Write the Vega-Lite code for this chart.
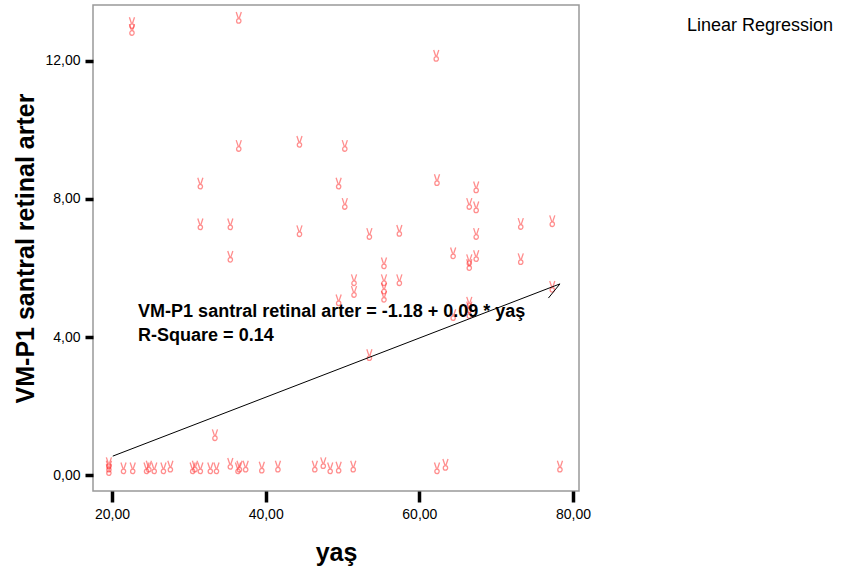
{
  "$schema": "https://vega.github.io/schema/vega-lite/v6.json",
  "autosize": "none",
  "width": 486,
  "height": 486,
  "padding": {"left": 93, "top": 5, "right": 262, "bottom": 83},
  "background": "white",
  "config": {
    "view": {"stroke": "#999999", "strokeWidth": 1.5},
    "font": "Liberation Sans",
    "axis": {
      "grid": false,
      "domain": false,
      "tickColor": "black",
      "tickWidth": 3.5,
      "labelFont": "Liberation Sans",
      "labelFontSize": 14,
      "labelColor": "black",
      "titleFont": "Liberation Sans",
      "titleFontSize": 25,
      "titleFontWeight": "bold",
      "titleColor": "black"
    }
  },
  "datasets": {
    "points": [
      {"yas": 22.6, "vm": 13.1}, {"yas": 22.6, "vm": 12.9}, {"yas": 36.5, "vm": 13.25}, {"yas": 62.2, "vm": 12.15},
      {"yas": 36.5, "vm": 9.54}, {"yas": 44.4, "vm": 9.66}, {"yas": 50.3, "vm": 9.54},
      {"yas": 31.5, "vm": 8.45}, {"yas": 49.5, "vm": 8.45}, {"yas": 62.3, "vm": 8.55}, {"yas": 67.4, "vm": 8.34},
      {"yas": 50.3, "vm": 7.86}, {"yas": 66.5, "vm": 7.86}, {"yas": 67.4, "vm": 7.76},
      {"yas": 31.5, "vm": 7.27}, {"yas": 35.4, "vm": 7.27}, {"yas": 44.4, "vm": 7.07}, {"yas": 73.2, "vm": 7.28},
      {"yas": 77.3, "vm": 7.36}, {"yas": 53.5, "vm": 6.99}, {"yas": 57.4, "vm": 7.08}, {"yas": 67.4, "vm": 6.99},
      {"yas": 35.4, "vm": 6.33}, {"yas": 64.4, "vm": 6.43}, {"yas": 67.4, "vm": 6.35}, {"yas": 66.5, "vm": 6.23},
      {"yas": 66.5, "vm": 6.09}, {"yas": 73.2, "vm": 6.26}, {"yas": 55.4, "vm": 6.14},
      {"yas": 51.5, "vm": 5.65}, {"yas": 51.5, "vm": 5.31}, {"yas": 55.4, "vm": 5.65}, {"yas": 55.4, "vm": 5.41},
      {"yas": 55.4, "vm": 5.17}, {"yas": 57.4, "vm": 5.65}, {"yas": 49.5, "vm": 5.07}, {"yas": 77.3, "vm": 5.46},
      {"yas": 66.5, "vm": 5.0}, {"yas": 66.5, "vm": 4.86}, {"yas": 64.4, "vm": 4.64}, {"yas": 66.5, "vm": 4.7},
      {"yas": 53.5, "vm": 3.48}, {"yas": 33.4, "vm": 1.16},
      {"yas": 19.6, "vm": 0.15}, {"yas": 19.6, "vm": 0.25}, {"yas": 19.6, "vm": 0.35},
      {"yas": 21.5, "vm": 0.2}, {"yas": 22.7, "vm": 0.2}, {"yas": 24.5, "vm": 0.2}, {"yas": 24.8, "vm": 0.25},
      {"yas": 25.5, "vm": 0.2}, {"yas": 26.7, "vm": 0.2}, {"yas": 27.6, "vm": 0.25},
      {"yas": 30.5, "vm": 0.2}, {"yas": 30.8, "vm": 0.25}, {"yas": 31.5, "vm": 0.2}, {"yas": 32.8, "vm": 0.2},
      {"yas": 33.6, "vm": 0.2}, {"yas": 35.4, "vm": 0.33}, {"yas": 36.4, "vm": 0.2}, {"yas": 36.6, "vm": 0.25},
      {"yas": 37.4, "vm": 0.25}, {"yas": 39.5, "vm": 0.22}, {"yas": 41.6, "vm": 0.25},
      {"yas": 46.4, "vm": 0.25}, {"yas": 47.5, "vm": 0.35}, {"yas": 48.4, "vm": 0.2}, {"yas": 49.5, "vm": 0.22},
      {"yas": 51.4, "vm": 0.25}, {"yas": 62.3, "vm": 0.2}, {"yas": 63.4, "vm": 0.3}, {"yas": 78.3, "vm": 0.25}
    ],
    "fit": [
      {"order": 1, "yas": 20.1, "vm": 0.55},
      {"order": 2, "yas": 78.3, "vm": 5.54},
      {"order": 3, "yas": 76.8, "vm": 5.13}
    ],
    "notes": [
      {"yas": 23.4, "vm": 4.73, "label": "VM-P1 santral retinal arter = -1.18 + 0.09 *   yaş"},
      {"yas": 23.4, "vm": 4.03, "label": "R-Square = 0.14"}
    ]
  },
  "encoding": {
    "x": {
      "field": "yas", "type": "quantitative",
      "scale": {"domain": [17.53, 80.78], "nice": false, "zero": false},
      "axis": {
        "title": "yaş", "values": [20, 40, 60, 80], "format": ".2f",
        "labelExpr": "replace(datum.label, '.', ',')",
        "tickSize": 11, "labelPadding": 5, "titlePadding": 19
      }
    },
    "y": {
      "field": "vm", "type": "quantitative",
      "scale": {"domain": [-0.46, 13.62], "nice": false, "zero": false},
      "axis": {
        "title": "VM-P1 santral retinal arter", "values": [0, 4, 8, 12], "format": ".2f",
        "labelExpr": "replace(datum.label, '.', ',')",
        "tickSize": 8, "labelPadding": 5, "titlePadding": 6
      }
    }
  },
  "layer": [
    {
      "data": {"name": "points"},
      "mark": {
        "type": "point",
        "shape": "M -0.45 -1 L -0.1 0.05 M 0.45 -1 L 0.1 0.05 M -0.38 0.55 A 0.38 0.4 0 1 0 0.38 0.55 A 0.38 0.4 0 1 0 -0.38 0.55",
        "size": 130,
        "filled": false,
        "stroke": "#ff3333",
        "strokeWidth": 1.3,
        "opacity": 0.55
      }
    },
    {
      "data": {"name": "fit"},
      "mark": {"type": "line", "strokeWidth": 1},
      "encoding": {
        "order": {"field": "order", "type": "quantitative"},
        "color": {
          "datum": "Linear Regression",
          "scale": {"range": ["black"]},
          "legend": {
            "title": null, "orient": "none", "legendX": 576, "legendY": 12,
            "symbolOpacity": 0, "symbolSize": 1, "labelOffset": 0,
            "labelFontSize": 18, "labelFont": "Liberation Sans", "labelColor": "black"
          }
        }
      }
    },
    {
      "data": {"name": "notes"},
      "mark": {"type": "text", "align": "left", "baseline": "middle", "fontSize": 18, "fontWeight": "bold", "font": "Liberation Sans", "color": "black"},
      "encoding": {"text": {"field": "label"}}
    }
  ]
}
